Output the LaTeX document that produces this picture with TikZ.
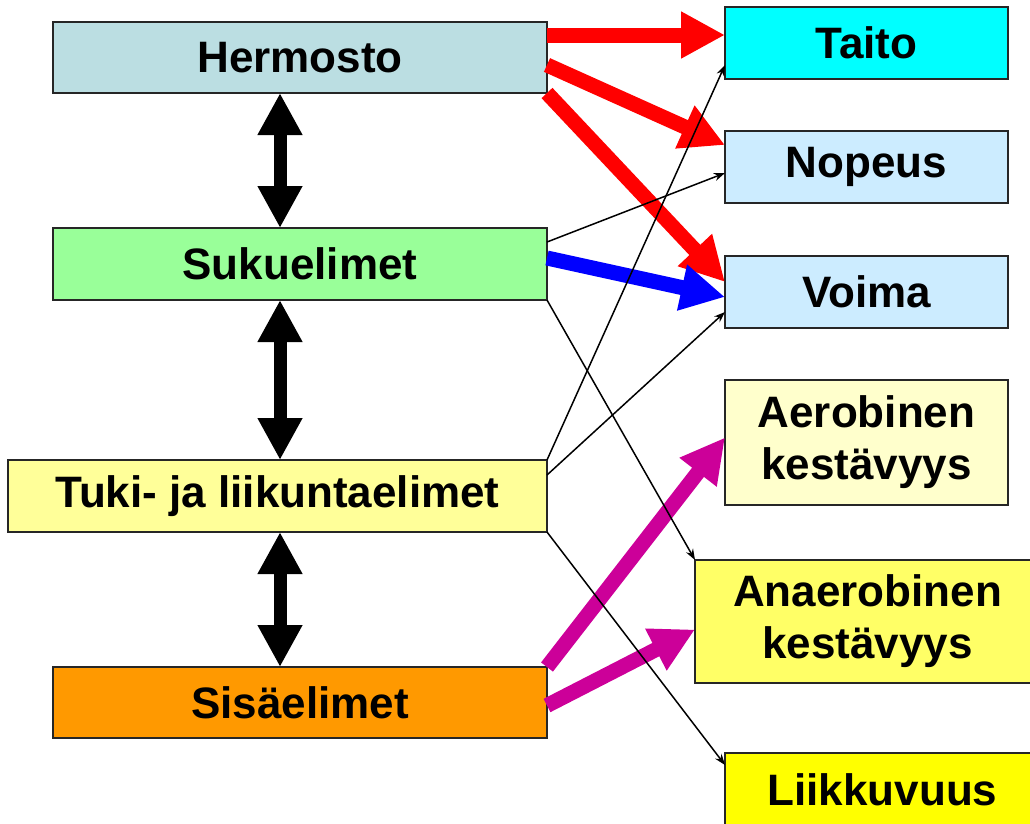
\documentclass[tikz,border=0pt]{standalone}
\usepackage{fontspec}
\setmainfont{Liberation Sans}
\usepackage{tikz}
\usetikzlibrary{positioning,
                arrows.meta}                % arrow tips

\definecolor{hermfill}{RGB}{187,222,226}
\definecolor{sukfill}{RGB}{153,255,153}
\definecolor{tukfill}{RGB}{255,255,153}
\definecolor{sisfill}{RGB}{255,153,0}
\definecolor{taifill}{RGB}{0,255,255}
\definecolor{bluefill}{RGB}{204,236,255}
\definecolor{aerfill}{RGB}{255,255,204}
\definecolor{anafill}{RGB}{255,255,102}
\definecolor{liifill}{RGB}{255,255,0}
\definecolor{magen}{RGB}{204,0,153}

\tikzset{
  box/.style={draw=black!85, line width=1.8pt, outer sep=0pt, align=center,
              font=\fontsize{44}{52}\selectfont\bfseries},
  fat/.style={line width=15pt, -{Triangle[length=44pt,width=44pt]}},
  updown/.style={line width=13pt, {Triangle[length=42pt,width=42pt]}-{Triangle[length=42pt,width=42pt]}},
  thin/.style={line width=1.5pt, -{Stealth[length=11pt,width=8pt]}}
}

\begin{document}
\begin{tikzpicture}[x=1pt,y=-1pt]
      \useasboundingbox (0,0) rectangle (1030,823);
      \clip (0,0) rectangle (1030,823);

      % left column
      \node[box, fill=hermfill, minimum width=494pt, minimum height=71pt] (herm) at (300,57.5) {Hermosto};
      \node[box, fill=sukfill, minimum width=494pt, minimum height=72pt] (suk) at (300,264) {Sukuelimet};
      \node[box, fill=tukfill, minimum width=539pt, minimum height=72pt] (tuk) at (277.5,496) {Tuki- ja liikuntaelimet};
      \node[box, fill=sisfill, minimum width=494pt, minimum height=71pt] (sis) at (300,702.5) {Sisäelimet};

      % right column
      \node[box, fill=taifill, minimum width=283pt, minimum height=72pt] (tai) at (866.5,43) {Taito};
      \node[box, fill=bluefill, minimum width=283pt, minimum height=72pt] (nop) at (866.5,167) {Nopeus};
      \node[box, fill=bluefill, minimum width=283pt, minimum height=72pt] (voi) at (866.5,292) {Voima};
      \node[box, fill=aerfill, minimum width=283pt, minimum height=125pt] (aer) at (866.5,442.5) {Aerobinen\\kestävyys};
      \node[box, fill=anafill, minimum width=345pt, minimum height=123pt] (ana) at (867.5,621.5) {Anaerobinen\\kestävyys};
      \node[box, fill=liifill, minimum width=315pt, minimum height=74pt] (lii) at (882.5,790) {Liikkuvuus};

      % vertical links
      \draw[updown] ([xshift=-20pt]herm.south) -- ([xshift=-20pt]suk.north);
      \draw[updown] ([xshift=-20pt]suk.south) -- ([xshift=2.5pt]tuk.north);
      \draw[updown] ([xshift=2.5pt]tuk.south) -- ([xshift=-20pt]sis.north);

      % thick arrows
      \draw[fat, red] ([yshift=22.5pt]herm.east) -- ([yshift=8pt]tai.west);
      \draw[fat, red] ([yshift=-7.5pt]herm.east) -- ([yshift=-14pt]nop.north west);
      \draw[fat, red] (herm.south east) -- ([yshift=10pt]voi.west);
      \draw[fat, blue] ([yshift=6pt]suk.east) -- ([yshift=-5pt]voi.west);
      \draw[fat, magen] (sis.north east) -- ([yshift=5pt]aer.west);
      \draw[fat, magen] ([yshift=-3pt]sis.east) -- ([yshift=-8pt]ana.west);

      % thin arrows
      \draw[thin] ([yshift=22pt]suk.east) -- ([yshift=-6pt]nop.west);
      \draw[thin] (suk.south east) -- (ana.north west);
      \draw[thin] (tuk.north east) -- ([yshift=14pt]tai.south west);
      \draw[thin] ([yshift=21pt]tuk.east) -- ([yshift=-20pt]voi.west);
      \draw[thin] (tuk.south east) -- ([yshift=-12pt]lii.north west);
\end{tikzpicture}
\end{document}
